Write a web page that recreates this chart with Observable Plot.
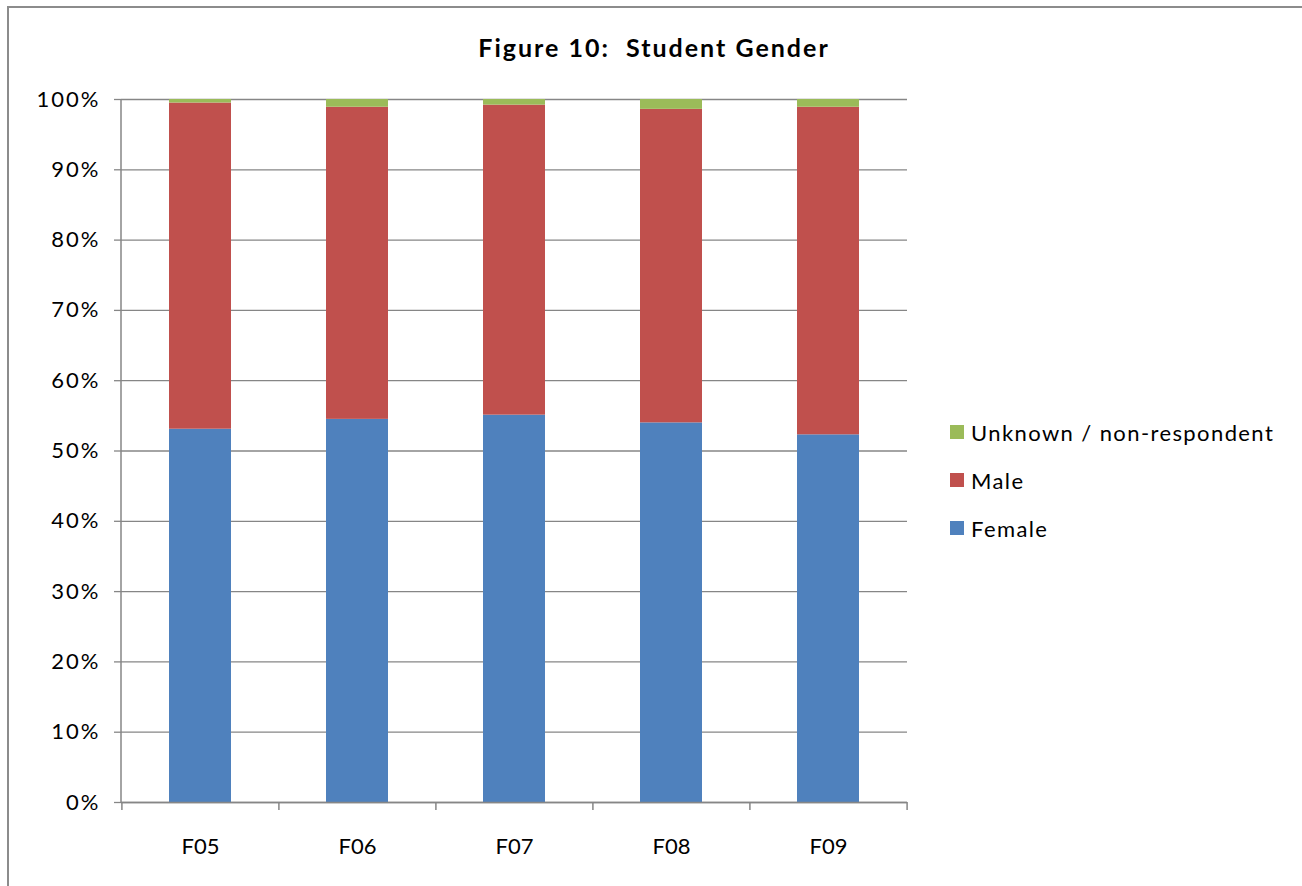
<!DOCTYPE html>
<html>
<head>
<meta charset="utf-8">
<script src="https://cdn.jsdelivr.net/npm/d3@7"></script>
<script src="https://cdn.jsdelivr.net/npm/@observablehq/plot@0.6"></script>
<style>
  html, body { margin: 0; padding: 0; background: #fff; }
  #wrap { position: relative; width: 1302px; height: 886px; overflow: hidden; font-family: Lato, "Open Sans", sans-serif; color: #000; background: #fff; }
  #frame { position: absolute; left: 7px; top: 6px; width: 1400px; height: 1000px; border: 2px solid #8c8c8c; box-sizing: border-box; pointer-events: none; }
  #title { position: absolute; left: 8px; width: 1292px; top: 30px; text-align: center; font-weight: bold; font-size: 25px; letter-spacing: 2px; line-height: 34px; }
  #chart { position: absolute; left: 0; top: 60px; }
  #legend { position: absolute; left: 950px; top: 408px; font-size: 22px; letter-spacing: 1.4px; }
  .row { display: flex; align-items: center; height: 48px; }
  .sw { width: 14px; height: 14px; margin-right: 7px; }
</style>
</head>
<body>
<div id="wrap">
  <div id="chart"></div>
  <div id="title">Figure 10:&nbsp; Student Gender</div>
  <div id="legend"></div>
  <div id="frame"></div>
</div>
<script>
const years = ["F05", "F06", "F07", "F08", "F09"];
const seriesNames = ["Female", "Male", "Unknown / non-respondent"];
const female = [53.1, 54.5, 55.1, 54.0, 52.3];
const male = [46.4, 44.4, 44.1, 44.6, 46.6];
const unknown = [0.5, 1.1, 0.8, 1.4, 1.1];
const colors = ["#4F81BD", "#C0504D", "#9BBB59"];
const yTicks = [0, 0.1, 0.2, 0.3, 0.4, 0.5, 0.6, 0.7, 0.8, 0.9, 1.0];

const seriesValues = [female, male, unknown];
const data = [];
seriesNames.forEach((s, si) => {
  years.forEach((yr, i) => data.push({year: yr, series: s, value: seriesValues[si][i] / 100}));
});

const W = 940, H = 826, ML = 121, MR = 33, MT = 39, MB = 84;
const step = (W - ML - MR) / years.length;
const grey = "#868686";

const plot = Plot.plot({
  width: W, height: H,
  marginLeft: ML, marginRight: MR, marginTop: MT, marginBottom: MB,
  style: {fontFamily: "Lato, 'Open Sans', sans-serif", fontSize: "22px", color: "#000", background: "transparent"},
  x: {domain: years, paddingInner: 0.605, paddingOuter: 0.3025, label: null},
  y: {domain: [0, 1], label: null},
  color: {domain: seriesNames, range: colors},
  marks: [
    Plot.gridY(yTicks, {stroke: grey, strokeOpacity: 1, strokeWidth: 1.3}),
    Plot.barY(data, {x: "year", y: "value", fill: "series", order: seriesNames, inset: 0}),
    Plot.ruleY([0], {stroke: grey, strokeWidth: 1.5}),
    Plot.axisY(yTicks, {tickFormat: d3.format(".0%"), tickSize: 7, tickPadding: 14, stroke: grey, strokeWidth: 1.3, fontSize: 22, label: null}),
    Plot.ruleX(years, {x: d => d, dx: -step / 2, y1: 0, y2: 0, stroke: grey, strokeWidth: 1.5, insetBottom: -8}),
    Plot.ruleX([years[years.length - 1]], {x: d => d, dx: step / 2, y1: 0, y2: 0, stroke: grey, strokeWidth: 1.5, insetBottom: -8}),
    Plot.axisX({tickSize: 0, tickPadding: 36, fontSize: 22, label: null})
  ]
});

document.getElementById("chart").appendChild(plot);
const svg = d3.select(plot);
svg.selectAll("g[aria-label='y-axis tick label'] text").style("letter-spacing", "2px");
svg.append("line")
  .attr("x1", ML).attr("x2", ML)
  .attr("y1", MT).attr("y2", H - MB)
  .attr("stroke", grey).attr("stroke-width", 1.5);

const legend = document.getElementById("legend");
[2, 1, 0].forEach(i => {
  const row = document.createElement("div");
  row.className = "row";
  row.innerHTML = `<div class="sw" style="background:${colors[i]}"></div><span>${seriesNames[i]}</span>`;
  legend.appendChild(row);
});
</script>
</body>
</html>
